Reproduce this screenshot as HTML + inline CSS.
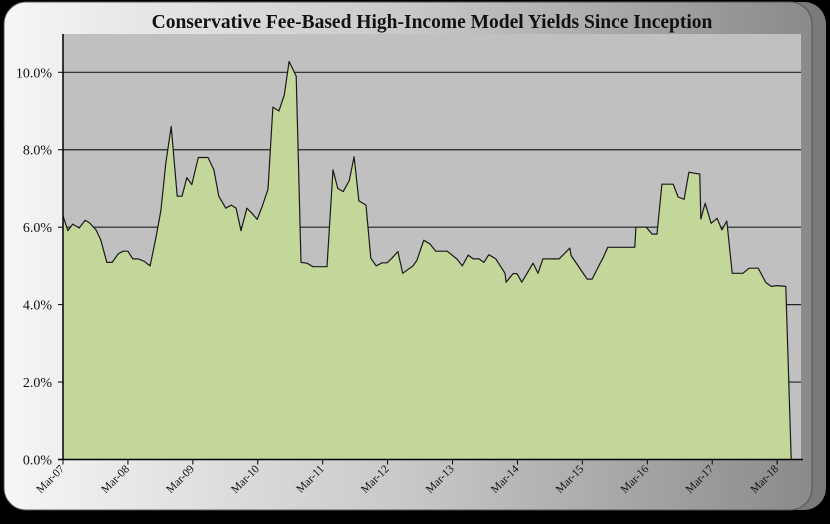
<!DOCTYPE html>
<html><head><meta charset="utf-8"><style>
html,body{margin:0;padding:0;background:#000;}
body{width:830px;height:519px;overflow:hidden;}
svg text{font-family:"Liberation Serif",serif;}
</style></head><body>
<svg width="830" height="519" viewBox="0 0 830 519">
<defs>
<linearGradient id="bg" x1="0" x2="1" y1="0" y2="0">
<stop offset="0" stop-color="#f6f6f6"/><stop offset="0.5" stop-color="#c8c8c8"/><stop offset="1" stop-color="#8a8a8a"/>
</linearGradient>
</defs>
<rect x="0" y="0" width="830" height="519" fill="#000"/>
<rect x="4" y="2" width="822" height="508" rx="22" fill="#7a7a7a"/>
<rect x="4" y="2" width="808" height="508" rx="22" fill="url(#bg)" stroke="#555" stroke-width="1"/>
<text x="432" y="28" text-anchor="middle" font-size="19.5" font-weight="bold" fill="#111">Conservative Fee-Based High-Income Model Yields Since Inception</text>
<rect x="63" y="34" width="738" height="425.5" fill="#c0c0c0"/>
<g id="grid"></g>
<g id="series"></g>
<g id="axes"></g>
</svg>
<script>
const monthOffsets=[0,0.9,1.8,3.0,4.1,5.0,6.1,7.0,8.1,9.1,10.2,11.1,12.0,12.9,13.9,15.0,16.1,17.2,18.1,19.0,20.0,21.1,22.0,22.9,23.8,25.0,25.9,26.8,27.9,28.8,30.1,31.1,32.0,32.9,34.0,34.9,35.9,36.8,37.9,38.8,39.9,40.9,41.8,43.1,44.0,45.1,46.2,48.8,49.9,50.8,51.8,52.9,53.8,54.7,56.0,56.9,57.9,59.0,59.9,60.8,61.9,62.8,64.7,65.4,66.7,67.8,68.9,71.0,72.8,73.8,74.9,75.8,76.9,77.8,78.7,80.0,81.7,81.9,83.2,83.9,84.8,86.9,87.8,88.7,91.7,93.7,93.9,96.9,97.8,99.3,99.8,100.7,105.7,105.9,107.8,108.9,109.8,110.7,112.8,113.7,114.8,115.7,117.7,117.9,118.7,119.8,120.9,121.8,122.7,123.7,125.7,126.8,128.5,129.9,130.9,132.0,133.6,134.6];
const yields=[6.29,5.91,6.08,5.98,6.18,6.1,5.93,5.66,5.09,5.09,5.31,5.38,5.38,5.18,5.18,5.12,5.0,5.75,6.43,7.65,8.6,6.8,6.8,7.28,7.1,7.8,7.8,7.8,7.48,6.8,6.49,6.57,6.49,5.91,6.49,6.36,6.2,6.53,6.98,9.1,9.0,9.41,10.28,9.9,5.09,5.07,4.98,4.98,7.48,7.0,6.92,7.2,7.82,6.68,6.57,5.2,5.0,5.08,5.08,5.2,5.37,4.81,5.0,5.14,5.66,5.57,5.38,5.38,5.18,5.0,5.28,5.18,5.18,5.09,5.29,5.18,4.81,4.58,4.8,4.8,4.58,5.07,4.81,5.18,5.18,5.46,5.27,4.66,4.66,5.07,5.2,5.48,5.48,6.0,6.0,5.82,5.82,7.11,7.11,6.78,6.72,7.42,7.37,6.21,6.62,6.1,6.23,5.93,6.16,4.81,4.81,4.94,4.94,4.57,4.47,4.49,4.47,0];
const yTicks=[0,2,4,6,8,10];
const yTickLabels=["0.0%","2.0%","4.0%","6.0%","8.0%","10.0%"];
const xTickLabels=["Mar-07","Mar-08","Mar-09","Mar-10","Mar-11","Mar-12","Mar-13","Mar-14","Mar-15","Mar-16","Mar-17","Mar-18"];

const NS="http://www.w3.org/2000/svg";
const X0=63,PXM=5.41,Y0=459.5,PXV=38.72;
function xs(m){return X0+m*PXM;}
function ys(v){return Y0-v*PXV;}
function mk(t,a){const e=document.createElementNS(NS,t);for(const k in a)e.setAttribute(k,a[k]);return e;}
const grid=document.getElementById('grid'),series=document.getElementById('series'),axes=document.getElementById('axes');
yTicks.forEach((v,i)=>{
  if(v>0){const l=mk('line',{x1:63,x2:801,y1:ys(v),y2:ys(v),stroke:'#222','stroke-width':1.2});
  
  
  grid.appendChild(l);}
  const t=mk('text',{x:52,y:ys(v)+5,'text-anchor':'end','font-size':14,fill:'#111'});
  t.textContent=yTickLabels[i];
  
  
  axes.appendChild(t);
  const tk=mk('line',{x1:58,x2:63,y1:ys(v),y2:ys(v),stroke:'#000'});
  
  
  axes.appendChild(tk);
});
let d='M'+xs(monthOffsets[0])+','+Y0;
monthOffsets.forEach((m,i)=>{d+=' L'+xs(m).toFixed(1)+','+ys(yields[i]).toFixed(1);});
const area=mk('path',{d:d+' Z',fill:'#c4d79b'});


series.appendChild(area);
let ld='';
monthOffsets.forEach((m,i)=>{ld+=(i?' L':'M')+xs(m).toFixed(1)+','+ys(yields[i]).toFixed(1);});
const line=mk('path',{d:ld,fill:'none',stroke:'#1a1a1a','stroke-width':1.2,'stroke-linejoin':'round'});


series.appendChild(line);
const ya=mk('line',{x1:63,x2:63,y1:34,y2:Y0,stroke:'#000','stroke-width':1.5});


axes.appendChild(ya);
const xa=mk('line',{x1:58,x2:803,y1:Y0,y2:Y0,stroke:'#000','stroke-width':1.5});


axes.appendChild(xa);
xTickLabels.forEach((lab,i)=>{
  const x=xs(i*12);
  const tk=mk('line',{x1:x,x2:x,y1:Y0,y2:Y0+5,stroke:'#000'});
  
  
  axes.appendChild(tk);
  const t=mk('text',{x:x+2,y:Y0+10,'text-anchor':'end','font-size':11.5,fill:'#111',transform:'rotate(-45 '+(x+2)+' '+(Y0+10)+')'});
  t.textContent=lab;
  
  
  axes.appendChild(t);
});
</script>
</body></html>
